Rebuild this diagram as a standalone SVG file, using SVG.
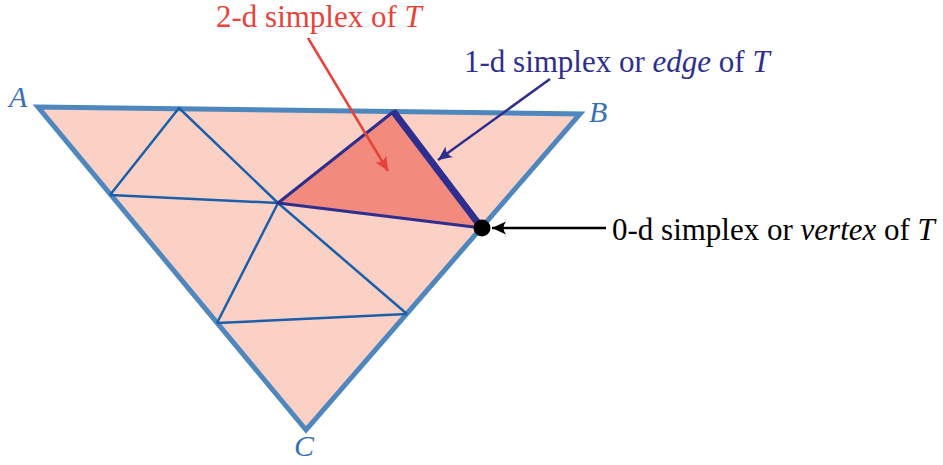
<svg xmlns="http://www.w3.org/2000/svg" width="943" height="465" viewBox="0 0 943 465">
<defs>
<style>
.lbl{font-family:"Liberation Serif","DejaVu Serif",serif;font-size:31px}
.vl{font-family:"Liberation Serif","DejaVu Serif",serif;font-size:30px;font-style:italic;fill:#3b6fb6}
.inner{stroke:#1a5faa;stroke-width:2.5;fill:none;stroke-linejoin:round}
</style>
<marker id="mr" viewBox="-14 -7 16 14" refX="0" refY="0" markerWidth="16" markerHeight="14" markerUnits="userSpaceOnUse" orient="auto">
<path d="M0,0 L-14,-6.5 Q-9,0 -14,6.5 Z" fill="#e8433a"/>
</marker>
<marker id="mb" viewBox="-14 -7 16 14" refX="0" refY="0" markerWidth="16" markerHeight="14" markerUnits="userSpaceOnUse" orient="auto">
<path d="M0,0 L-14,-6.5 Q-9,0 -14,6.5 Z" fill="#2e2e8e"/>
</marker>
<marker id="mk" viewBox="-14 -7 16 14" refX="0" refY="0" markerWidth="16" markerHeight="14" markerUnits="userSpaceOnUse" orient="auto">
<path d="M0,0 L-14,-6.5 Q-9,0 -14,6.5 Z" fill="#000"/>
</marker>
</defs>
<rect width="943" height="465" fill="#fff"/>
<g id="triangle">
<polygon points="38,107 580,114 306,430" fill="#fbd1c6" stroke="#4d87bd" stroke-width="5" stroke-linejoin="miter"/>
</g>
<g id="subdivision">
<polyline class="inner" points="110,195 179,108 278,203 110,195"/>
<line class="inner" x1="278" y1="203" x2="217" y2="323"/>
<line class="inner" x1="278" y1="203" x2="407" y2="314"/>
<line class="inner" x1="217" y1="323" x2="407" y2="314"/>
</g>
<g id="simplex2">
<polygon points="278,203 393,112 482,228" fill="#f28b7e" stroke="#2e2e8e" stroke-width="3" stroke-linejoin="round"/>
</g>
<g id="edge">
<line x1="393" y1="111" x2="481" y2="227" stroke="#2e2e8e" stroke-width="7" stroke-linecap="butt"/>
</g>
<g id="vertex">
<circle cx="482" cy="228" r="8.5" fill="#000"/>
</g>
<g id="connectors">
<line x1="308" y1="38" x2="388" y2="171" stroke="#e8433a" stroke-width="2.5" marker-end="url(#mr)"/>
<line x1="550" y1="79" x2="438" y2="160" stroke="#2e2e8e" stroke-width="2.5" marker-end="url(#mb)"/>
<line x1="606" y1="228" x2="492" y2="228" stroke="#000" stroke-width="2.5" marker-end="url(#mk)"/>
</g>
<g id="labels">
<text class="vl" x="9" y="107">A</text>
<text class="vl" x="589" y="122">B</text>
<text class="vl" x="294" y="456">C</text>
<text class="lbl" x="216" y="27" fill="#e8433a">2-d simplex of <tspan font-style="italic">T</tspan></text>
<text class="lbl" x="464" y="72" fill="#2e2e8e">1-d simplex or <tspan font-style="italic">edge</tspan> of <tspan font-style="italic">T</tspan></text>
<text class="lbl" x="612" y="240" fill="#000">0-d simplex or <tspan font-style="italic">vertex</tspan> of <tspan font-style="italic">T</tspan></text>
</g>
</svg>
